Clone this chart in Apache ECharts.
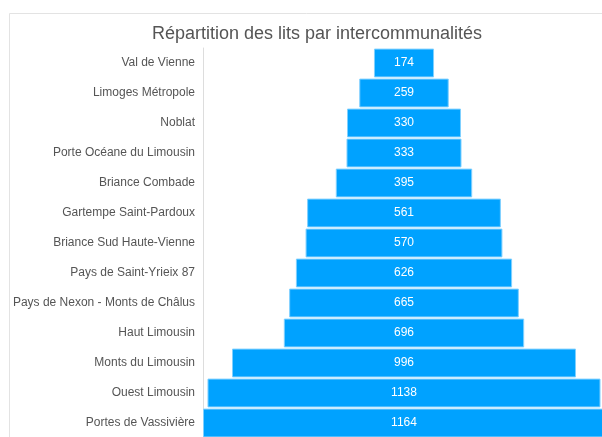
<!DOCTYPE html>
<html>
<head>
<meta charset="utf-8">
<script src="https://cdn.jsdelivr.net/npm/echarts@6/dist/echarts.min.js"></script>
<style>
  html, body { margin: 0; padding: 0; background: #fff; }
  #chart { width: 602px; height: 437px; }
</style>
</head>
<body>
<div id="chart"></div>
<script>
// intercommunalités, du haut vers le bas
const categories = [
  'Val de Vienne', 'Limoges Métropole', 'Noblat', 'Porte Océane du Limousin',
  'Briance Combade', 'Gartempe Saint-Pardoux', 'Briance Sud Haute-Vienne',
  'Pays de Saint-Yrieix 87', 'Pays de Nexon - Monts de Châlus', 'Haut Limousin',
  'Monts du Limousin', 'Ouest Limousin', 'Portes de Vassivière'
];
const lits = [174, 259, 330, 333, 395, 561, 570, 626, 665, 696, 996, 1138, 1164];

const maxVal = Math.max(...lits);
// décalage invisible pour centrer chaque barre
const offsets = lits.map(v => (maxVal - v) / 2);

const chart = echarts.init(document.getElementById('chart'));

const option = {
  animation: false,
  textStyle: { fontFamily: 'Liberation Sans, Arial, sans-serif' },
  title: {
    text: 'Répartition des lits par intercommunalités',
    left: 312,
    textAlign: 'center',
    top: 20,
    textStyle: { fontSize: 18, fontWeight: 'normal', color: '#555' }
  },
  graphic: [{
    type: 'rect',
    silent: true,
    z: -1,
    shape: { x: 9.5, y: 13.5, width: 620, height: 440 },
    style: { fill: 'none', stroke: '#e3e3e3', lineWidth: 1 }
  }],
  grid: { left: 203, width: 402, top: 48, height: 390, outerBoundsMode: 'none' },
  xAxis: {
    type: 'value',
    min: 0,
    max: maxVal,
    show: false
  },
  yAxis: {
    type: 'category',
    inverse: true,
    data: categories,
    axisLine: { show: true, lineStyle: { color: '#ddd' } },
    axisTick: { show: false },
    axisLabel: { color: '#555', fontSize: 12, margin: 8 }
  },
  series: [
    {
      type: 'bar',
      stack: 'total',
      data: offsets,
      itemStyle: { color: 'transparent' },
      barCategoryGap: '4%',
      silent: true
    },
    {
      type: 'bar',
      stack: 'total',
      data: lits,
      barCategoryGap: '4%',
      itemStyle: { color: '#00a2ff', borderColor: '#7fd0ff', borderWidth: 1 },
      label: {
        show: true,
        position: 'inside',
        color: '#fff',
        fontSize: 12
      }
    }
  ]
};

chart.setOption(option);
</script>
</body>
</html>
